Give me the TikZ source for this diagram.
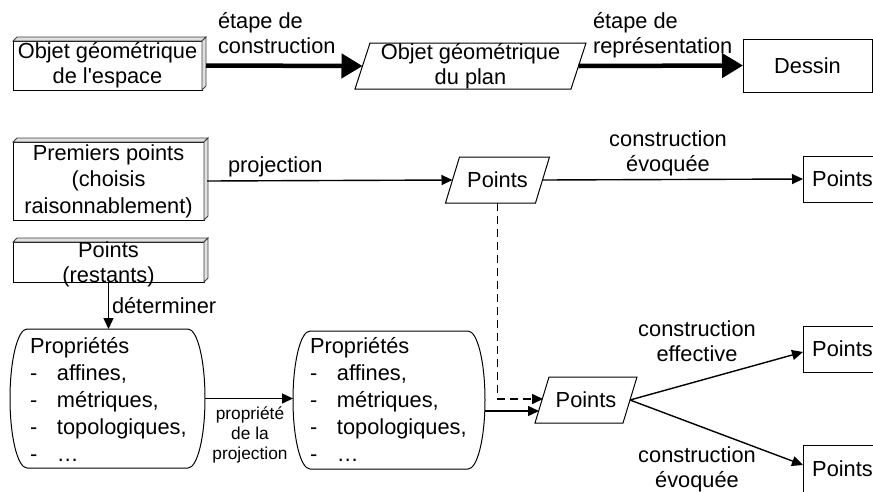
\documentclass[tikz,border=0pt]{standalone}
\usepackage{fontspec}
\setmainfont{Liberation Sans}
\usetikzlibrary{arrows.meta,calc}
\newcommand\mydepthbox[1]{%
  \filldraw[depthface] (#1.north west) -- ++(4,-4) -- ($(#1.north east)+(4,-4)$) -- (#1.north east) -- cycle;
  \filldraw[depthface] (#1.north east) -- ++(4,-4) -- ($(#1.south east)+(4,-4)$) -- (#1.south east) -- cycle;}
\newcommand\myparallel[2]{%
  \draw[outline] ($(#1.north west)+(#2,0)$) -- ($(#1.north east)+(#2,0)$) -- ($(#1.south east)+(-#2,0)$) -- ($(#1.south west)+(-#2,0)$) -- cycle;}
\newcommand\mypropsoutline[1]{%
  \draw[outline] ($(#1.north west)+(17,0)$) -- ($(#1.north east)+(-17,0)$)
    .. controls ($(#1.north east)+(-7.6,0)$) and ($(#1.east)+(0,-38.3)$) .. (#1.east)
    .. controls ($(#1.east)+(0,38.3)$) and ($(#1.south east)+(-7.6,0)$) .. ($(#1.south east)+(-17,0)$)
    -- ($(#1.south west)+(17,0)$)
    .. controls ($(#1.south west)+(7.6,0)$) and ($(#1.west)+(0,38.3)$) .. (#1.west)
    .. controls ($(#1.west)+(0,-38.3)$) and ($(#1.north west)+(7.6,0)$) .. ($(#1.north west)+(17,0)$) -- cycle;}
\begin{document}
\begin{tikzpicture}[x=1pt,y=-1pt,
  every node/.style={inner sep=0pt, outer sep=0pt},
  mainfont/.style={font=\fontsize{21.8}{25}\selectfont},
  boxnode/.style={draw=black, line width=1pt, mainfont, align=center, fill=white},
  ghost/.style={inner sep=0pt, outer sep=0pt},
  depthface/.style={draw=black!75, fill=black!12, line width=0.8pt},
  thickarrow/.style={line width=4.5pt, -{Triangle[length=21pt,width=24pt]}},
  thinarrow/.style={line width=1.4pt, -{Triangle[length=11pt,width=10pt]}},
  dasharrow/.style={thinarrow, line width=1.6pt, dash pattern=on 8pt off 5pt},
  outline/.style={draw=black, line width=1pt},
  lbl/.style={mainfont},
  smalllbl/.style={font=\fontsize{17.3}{20}\selectfont, align=center},
  proptext/.style={font=\fontsize{21.8}{27}\selectfont, align=left, anchor=north west}
]
\useasboundingbox (0,0) rectangle (873,491);
\clip (0,0) rectangle (873,491);

% ---------- top row ----------
\node[boxnode, minimum width=189, minimum height=49] (obj1) at (107.5,65.5) {Objet géométrique\\de l\textquotesingle espace};
\mydepthbox{obj1}
\node[ghost, minimum width=216, minimum height=46] (par1) at (470.5,66) {};
\myparallel{par1}{7.5}
\node[mainfont, align=center] (par1txt) at (par1.center) {Objet géométrique\\du plan};
\node[boxnode, minimum width=129, minimum height=53] (dessin) at (807.5,65.5) {Dessin};

\draw[thickarrow] ([xshift=4pt]obj1.east) -- (par1.west);
\draw[thickarrow] (par1.east) -- (dessin.west);
\node[lbl, align=left, anchor=north west] (lbl1) at (218,12) {étape de\\construction};
\node[lbl, align=left, anchor=north west] (lbl2) at (593,12) {étape de\\représentation};

% ---------- middle row ----------
\node[boxnode, minimum width=191, minimum height=78, font=\fontsize{21.8}{26.5}\selectfont] (pp) at (108.5,181) {Premiers points\\(choisis\\raisonnablement)};
\mydepthbox{pp}
\node[ghost, minimum width=90, minimum height=46] (pts1) at (497.5,180) {};
\myparallel{pts1}{7}
\node[mainfont] (pts1txt) at (pts1.center) {Points};
\node[boxnode, minimum width=79, minimum height=46] (pr1) at (842.5,179) {Points};

\draw[thinarrow] ([xshift=3pt]pp.east) -- (pts1.west);
\node[lbl, anchor=base west] (projlbl) at (228,172) {projection};
\draw[thinarrow] (pts1.east) -- (pr1.west);
\node[lbl, align=center, anchor=north] (ce1) at (668,131) {construction\\évoquée};

% ---------- remaining points ----------
\node[boxnode, minimum width=191, minimum height=40] (rest) at (108.5,262) {};
\mydepthbox{rest}
\node[lbl, align=center, anchor=north] (resttxt) at (108.5,241.5) {Points\\(restants)};

% ---------- properties ----------
\node[ghost, minimum width=195, minimum height=139] (props1) at (107.5,398.5) {};
\mypropsoutline{props1}
\node[proptext] (props1txt) at (30,337) {Propriétés\\\makebox[27pt][l]{-}affines,\\\makebox[27pt][l]{-}métriques,\\\makebox[27pt][l]{-}topologiques,\\\makebox[27pt][l]{-}…};
\node[ghost, minimum width=192, minimum height=138] (props2) at (389,400) {};
\mypropsoutline{props2}
\node[proptext] (props2txt) at (310,337) {Propriétés\\\makebox[27pt][l]{-}affines,\\\makebox[27pt][l]{-}métriques,\\\makebox[27pt][l]{-}topologiques,\\\makebox[27pt][l]{-}…};

\draw[thinarrow] (rest.south) -- (rest.south |- props1.north);
\node[lbl, anchor=base west] (detlbl) at (112,313) {déterminer};

\draw[thinarrow] (props1.east) -- (props1.east -| props2.west);
\node[smalllbl] (projprop) at (250,434.5) {propriété\\de la\\projection};

% ---------- bottom right ----------
\node[ghost, minimum width=88, minimum height=46] (pts2) at (586,400) {};
\myparallel{pts2}{7}
\node[mainfont] (pts2txt) at (pts2.center) {Points};
\node[boxnode, minimum width=79, minimum height=46] (pr3) at (842.5,349) {Points};
\node[boxnode, minimum width=79, minimum height=48] (pr4) at (842.5,469) {Points};

\draw[dasharrow] (pts1.south) |- ([yshift=1pt,xshift=1pt]pts2.west);
\draw[thinarrow] ([yshift=-11pt]props2.east) -- ([yshift=-11pt,xshift=-3pt]pts2.west);
\draw[thinarrow] (pts2.east) -- ([yshift=-3pt]pr3.west);
\draw[thinarrow] (pts2.east) -- ([yshift=4pt]pr4.west);
\node[lbl, align=center, anchor=north] (ceff) at (697,321) {construction\\effective};
\node[lbl, align=center, anchor=north] (cev2) at (697,447) {construction\\évoquée};
\end{tikzpicture}
\end{document}
